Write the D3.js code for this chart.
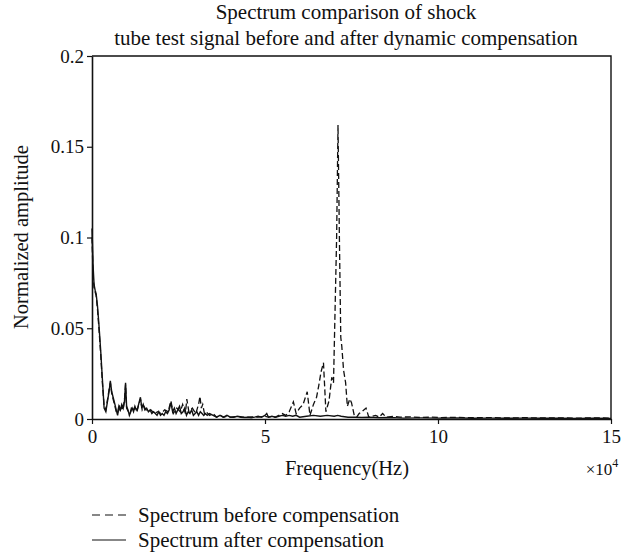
<!DOCTYPE html>
<html>
<head>
<meta charset="utf-8">
<script src="https://cdn.jsdelivr.net/npm/d3@7"></script>
<style>
  body { margin: 0; background: #fff; }
  text { font-family: "Liberation Serif", "DejaVu Serif", serif; fill: #111; }
</style>
</head>
<body>
<div id="chart"></div>
<script>
// frequency in units of 10^4 Hz, amplitude normalized
var freqAfter = [
  0, 0.03, 0.06, 0.09, 0.12, 0.16, 0.2, 0.25, 0.3, 0.35,
  0.4, 0.45, 0.5, 0.53, 0.57, 0.61, 0.65, 0.7, 0.74, 0.78,
  0.82, 0.86, 0.9, 0.94, 0.97, 1.0, 1.04, 1.08, 1.12, 1.16,
  1.2, 1.24, 1.28, 1.32, 1.36, 1.4, 1.44, 1.48, 1.53, 1.58,
  1.63, 1.68, 1.73, 1.78, 1.83, 1.88, 1.93, 1.98, 2.03, 2.08,
  2.13, 2.18, 2.23, 2.28, 2.33, 2.38, 2.43, 2.48, 2.53, 2.58,
  2.63, 2.68, 2.73, 2.78, 2.83, 2.88, 2.93, 2.98, 3.03, 3.08,
  3.13, 3.18, 3.23, 3.28, 3.33, 3.4, 3.5, 3.6, 3.7, 3.8,
  3.9, 4.0, 4.1, 4.2, 4.3, 4.4, 4.5, 4.6, 4.7, 4.8,
  4.9, 5.0, 5.05, 5.1, 5.2, 5.3, 5.4, 5.5, 5.6, 5.7,
  5.8, 5.9, 6.0, 6.2, 6.4, 6.6, 6.8, 7.0, 7.1, 7.2,
  7.4, 7.6, 7.8, 8.0, 8.3, 8.6, 9.0, 9.5, 10, 10.5,
  11, 11.5, 12, 12.5, 13, 13.5, 14, 14.5, 15
];
var ampAfter = [
  0.105, 0.085, 0.074, 0.071, 0.069, 0.062, 0.052, 0.038, 0.022, 0.006,
  0.004, 0.01, 0.016, 0.021, 0.015, 0.012, 0.009, 0.005, 0.002, 0.007,
  0.005, 0.008, 0.006, 0.01, 0.02, 0.007, 0.005, 0.002, 0.004, 0.006,
  0.004, 0.007, 0.005, 0.006, 0.009, 0.012, 0.006, 0.008, 0.005, 0.006,
  0.004, 0.005, 0.003, 0.004, 0.003, 0.002, 0.004, 0.002, 0.003, 0.002,
  0.004, 0.003, 0.005, 0.009, 0.004, 0.006, 0.003, 0.005, 0.007, 0.003,
  0.004, 0.006, 0.002, 0.004, 0.003, 0.005, 0.002, 0.003, 0.004, 0.002,
  0.004, 0.003, 0.002, 0.003, 0.002, 0.003, 0.002, 0.001, 0.002, 0.001,
  0.002, 0.001, 0.001, 0.0015, 0.001, 0.0008, 0.001, 0.0007, 0.001, 0.0015,
  0.001, 0.002, 0.003, 0.001, 0.0015, 0.001, 0.0015, 0.002, 0.0015, 0.002,
  0.0015, 0.002, 0.001, 0.0015, 0.002, 0.0015, 0.002, 0.0015, 0.002, 0.0015,
  0.001, 0.001, 0.0008, 0.001, 0.0007, 0.0008, 0.0005, 0.0006, 0.0005, 0.0006,
  0.0004, 0.0005, 0.0004, 0.0005, 0.0004, 0.0004, 0.0003, 0.0004, 0.0003
];
var freqBefore = [
  0, 0.03, 0.06, 0.09, 0.12, 0.16, 0.2, 0.25, 0.3, 0.35,
  0.4, 0.45, 0.5, 0.53, 0.57, 0.61, 0.65, 0.7, 0.74, 0.78,
  0.82, 0.86, 0.9, 0.94, 0.97, 1.0, 1.05, 1.1, 1.15, 1.2,
  1.25, 1.3, 1.35, 1.4, 1.45, 1.5, 1.6, 1.7, 1.8, 1.9,
  2.0, 2.1, 2.2, 2.28, 2.35, 2.45, 2.55, 2.62, 2.7, 2.74,
  2.8, 2.9, 3.0, 3.08, 3.12, 3.16, 3.2, 3.25, 3.3, 3.4,
  3.5, 3.6, 3.7, 3.8, 3.9, 4.0, 4.2, 4.4, 4.6, 4.8,
  5.0, 5.1, 5.2, 5.3, 5.4, 5.5, 5.6, 5.7, 5.82, 5.9,
  6.0, 6.1, 6.22, 6.3, 6.4, 6.49, 6.55, 6.62, 6.69, 6.76,
  6.85, 6.93, 6.98, 7.07, 7.11, 7.15, 7.19, 7.22, 7.27, 7.33,
  7.38, 7.45, 7.5, 7.58, 7.65, 7.72, 7.8, 7.92, 8.0, 8.1,
  8.2, 8.3, 8.4, 8.5, 8.7, 8.9, 9.2, 9.5, 9.8, 10.1,
  10.5, 11, 11.5, 12, 12.5, 13, 13.5, 14, 14.5, 15
];
var ampBefore = [
  0.1, 0.08, 0.072, 0.07, 0.068, 0.06, 0.05, 0.036, 0.02, 0.007,
  0.005, 0.011, 0.017, 0.02, 0.014, 0.011, 0.008, 0.004, 0.003, 0.008,
  0.004, 0.007, 0.005, 0.011, 0.019, 0.006, 0.004, 0.003, 0.007, 0.005,
  0.006, 0.004, 0.008, 0.011, 0.005, 0.007, 0.004, 0.005, 0.003, 0.004,
  0.003, 0.005, 0.004, 0.01, 0.003, 0.006, 0.004, 0.008, 0.003, 0.011,
  0.004, 0.006, 0.003, 0.008, 0.0125, 0.006, 0.008, 0.003, 0.004, 0.002,
  0.003, 0.001, 0.002, 0.001, 0.0015, 0.001, 0.0015, 0.001, 0.0012, 0.001,
  0.0015, 0.001, 0.0015, 0.001, 0.002, 0.003, 0.002, 0.004, 0.0095, 0.003,
  0.006, 0.008, 0.015, 0.002, 0.008, 0.012, 0.018, 0.026, 0.031, 0.004,
  0.01, 0.023, 0.02, 0.1, 0.162, 0.1, 0.045, 0.04, 0.027, 0.02,
  0.007, 0.011, 0.009, 0.002, 0.001, 0.003, 0.004, 0.006, 0.001, 0.0015,
  0.002, 0.001, 0.003, 0.001, 0.0015, 0.001, 0.0012, 0.0008, 0.001, 0.0008,
  0.0009, 0.0007, 0.0008, 0.0006, 0.0007, 0.0006, 0.0006, 0.0005, 0.0006, 0.0005
];
var xTicks = [0, 5, 10, 15];
var yTicks = [0, 0.05, 0.1, 0.15, 0.2];
var titleLines = ["Spectrum comparison of shock", "tube test signal before and after dynamic compensation"];
var legendLabels = ["Spectrum before compensation", "Spectrum after compensation"];

var margin = {top: 56, right: 26, bottom: 134, left: 92},
    width = 637 - margin.left - margin.right,
    height = 553 - margin.top - margin.bottom;

var root = d3.select("#chart")
  .append("svg")
    .attr("width", 637)
    .attr("height", 553);

var svg = root.append("g")
    .attr("transform", "translate(" + margin.left + "," + margin.top + ")");

var x = d3.scaleLinear().domain([0, 15]).range([0, width]);
var y = d3.scaleLinear().domain([0, 0.2]).range([height, 0]);

// frame (top and right sides)
svg.append("path")
  .attr("d", "M0,0H" + width + "V" + height)
  .attr("fill", "none")
  .attr("stroke", "#111")
  .attr("stroke-width", 1.4);

// axes
var xAxis = svg.append("g")
  .attr("transform", "translate(0," + height + ")")
  .call(d3.axisBottom(x).tickValues(xTicks).tickSize(5).tickSizeOuter(0).tickPadding(6));
var yAxis = svg.append("g")
  .call(d3.axisLeft(y).tickValues(yTicks).tickSize(5).tickSizeOuter(0).tickPadding(3)
    .tickFormat(function (d) { return String(d); }));

[xAxis, yAxis].forEach(function (a) {
  a.select(".domain").attr("stroke", "#111").attr("stroke-width", 1.6);
  a.selectAll(".tick line").attr("stroke", "#111").attr("stroke-width", 1.2);
  a.selectAll(".tick text")
    .style("font-family", "'Liberation Serif', serif")
    .style("font-size", "19px")
    .attr("fill", "#111");
});

// lines
var line = d3.line()
  .x(function (d) { return x(d[0]); })
  .y(function (d) { return y(d[1]); });

var before = d3.zip(freqBefore, ampBefore);
var after = d3.zip(freqAfter, ampAfter);

svg.append("path")
  .datum(before)
  .attr("d", line)
  .attr("fill", "none")
  .attr("stroke", "#111")
  .attr("stroke-width", 1.3)
  .attr("stroke-dasharray", "6,3");

svg.append("path")
  .datum(after)
  .attr("d", line)
  .attr("fill", "none")
  .attr("stroke", "#111")
  .attr("stroke-width", 1.4);

// titles
root.selectAll(".title")
  .data(titleLines)
  .enter()
  .append("text")
    .attr("class", "title")
    .attr("x", 346)
    .attr("y", function (d, i) { return 19 + i * 26; })
    .attr("text-anchor", "middle")
    .style("font-size", "21px")
    .text(function (d) { return d; });

// axis labels
root.append("text")
  .attr("x", 347)
  .attr("y", 475)
  .attr("text-anchor", "middle")
  .style("font-size", "20.5px")
  .text("Frequency(Hz)");

var mult = root.append("text")
  .attr("x", 602)
  .attr("y", 475)
  .attr("text-anchor", "middle")
  .style("font-size", "17px");
mult.append("tspan").text("\u00d710");
mult.append("tspan").attr("dy", -8).style("font-size", "12px").text("4");

root.append("text")
  .attr("transform", "rotate(-90)")
  .attr("x", -237)
  .attr("y", 28)
  .attr("text-anchor", "middle")
  .style("font-size", "20.5px")
  .text("Normalized amplitude");

// legend
var legend = root.selectAll(".legend")
  .data(legendLabels)
  .enter()
  .append("g")
    .attr("class", "legend")
    .attr("transform", function (d, i) { return "translate(92," + (515 + i * 25) + ")"; });

legend.append("line")
  .attr("x1", 0)
  .attr("x2", 34)
  .attr("stroke", "#111")
  .attr("stroke-width", 1.2)
  .attr("stroke-dasharray", function (d, i) { return i === 0 ? "8,5" : null; });

legend.append("text")
  .attr("x", 46)
  .attr("y", 7)
  .style("font-size", "21px")
  .text(function (d) { return d; });
</script>
</body>
</html>
